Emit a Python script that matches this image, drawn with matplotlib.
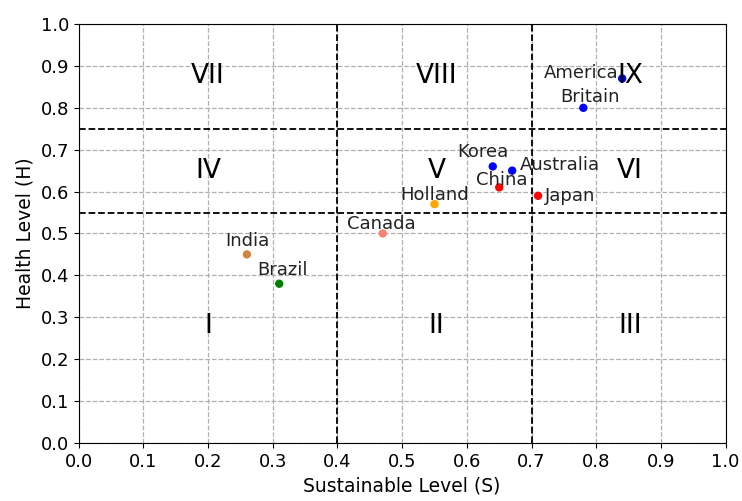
import matplotlib
matplotlib.use("Agg")
import matplotlib.pyplot as plt

## DATA
countries = ["America", "Britain", "Korea", "Australia", "China",
             "Japan", "Holland", "Canada", "India", "Brazil"]
s_level = [0.84, 0.78, 0.64, 0.67, 0.65, 0.71, 0.55, 0.47, 0.26, 0.31]
h_level = [0.87, 0.80, 0.66, 0.65, 0.61, 0.59, 0.57, 0.50, 0.45, 0.38]
colors = ["blue", "blue", "blue", "blue", "red",
          "red", "orange", "salmon", "peru", "green"]

regions = ["I", "II", "III", "IV", "V", "VI", "VII", "VIII", "IX"]
region_x = [0.2, 0.553, 0.852, 0.2, 0.553, 0.852, 0.2, 0.553, 0.852]
region_y = [0.278, 0.278, 0.278, 0.65, 0.65, 0.65, 0.877, 0.877, 0.877]

s_cuts = [0.4, 0.7]
h_cuts = [0.55, 0.75]

# label offsets (dx, dy) and alignment per country
label_off = [(-0.005, 0.013), (0.01, 0.026), (-0.015, 0.034), (0.012, 0.013), (0.004, 0.018),
             (0.01, 0.0), (0.0, 0.022), (-0.002, 0.023), (0.0, 0.032), (0.005, 0.033)]
label_ha = ["right", "center", "center", "left", "center",
            "left", "center", "center", "center", "center"]

plt.rcParams['font.family'] = ['DejaVu Sans']

fig = plt.figure(figsize=(7.42, 5.01), dpi=100)
ax = fig.add_axes([0.106, 0.116, 0.872, 0.836])

ax.grid(True, linestyle="--", color="#b0b0b0", linewidth=0.9)
ax.set_axisbelow(True)

for s in s_cuts:
    ax.axvline(s, color="black", linestyle="--", linewidth=1.3)
for h in h_cuts:
    ax.axhline(h, color="black", linestyle="--", linewidth=1.3)

ax.scatter(s_level, h_level, c=colors, s=25, zorder=3)

for name, x, y, off, ha in zip(countries, s_level, h_level, label_off, label_ha):
    ax.text(x + off[0], y + off[1], name, fontsize=13, ha=ha, va="center", color="#222222")

for r, x, y in zip(regions, region_x, region_y):
    ax.text(x, y, r, fontsize=19, ha="center", va="center")

ax.set_xlim(0, 1)
ax.set_ylim(0, 1)
ax.set_xticks([i / 10 for i in range(11)])
ax.set_yticks([i / 10 for i in range(11)])
ax.tick_params(labelsize=13)
ax.set_xlabel("Sustainable Level (S)", fontsize=13.5)
ax.set_ylabel("Health Level (H)", fontsize=13.5)

fig.savefig("out.png", dpi=100)
